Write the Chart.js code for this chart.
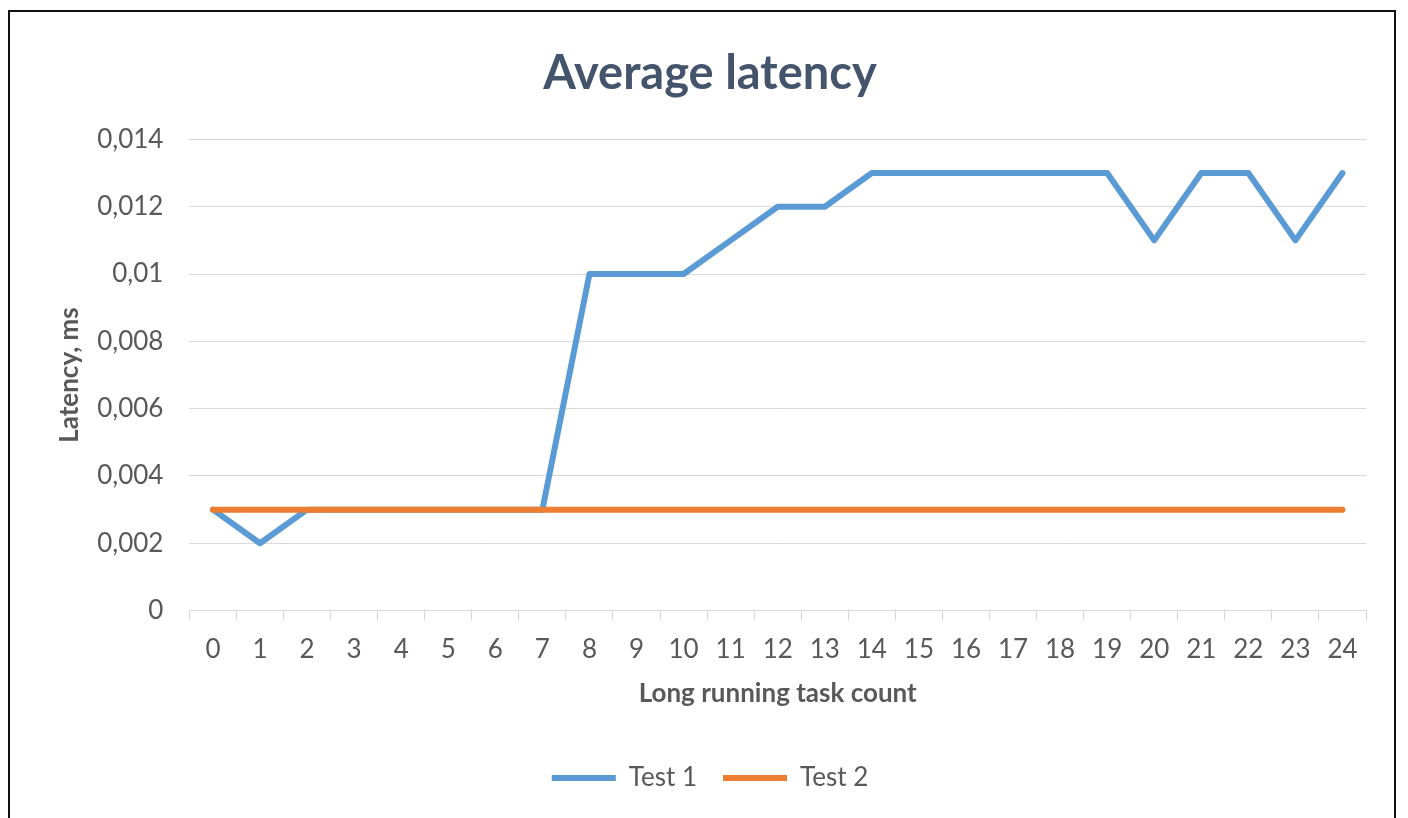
<!DOCTYPE html>
<html>
<head>
<meta charset="utf-8">
<script src="https://cdn.jsdelivr.net/npm/chart.js@4/dist/chart.umd.min.js"></script>
<style>
    body { margin: 0; background: #fff; }
    #wrap { position: relative; width: 1408px; height: 818px; }
    #frame {
        position: absolute; left: 8px; top: 10px; width: 1388px; height: 820px;
        border: 2px solid #111; pointer-events: none; box-sizing: border-box;
    }
</style>
</head>
<body>
<div id="wrap">
    <canvas id="latency-chart"></canvas>
    <div id="frame"></div>
</div>
<script>
// Data
const taskCounts = ['0', '1', '2', '3', '4', '5', '6', '7', '8', '9', '10', '11', '12',
    '13', '14', '15', '16', '17', '18', '19', '20', '21', '22', '23', '24'];
const test1 = [0.003, 0.002, 0.003, 0.003, 0.003, 0.003, 0.003, 0.003, 0.010, 0.010, 0.010, 0.011, 0.012,
    0.012, 0.013, 0.013, 0.013, 0.013, 0.013, 0.013, 0.011, 0.013, 0.013, 0.011, 0.013];
const test2 = [0.003, 0.003, 0.003, 0.003, 0.003, 0.003, 0.003, 0.003, 0.003, 0.003, 0.003, 0.003, 0.003,
    0.003, 0.003, 0.003, 0.003, 0.003, 0.003, 0.003, 0.003, 0.003, 0.003, 0.003, 0.003];
const yMax = 0.014;
const yStep = 0.002;

const textColor = '#595959';
const gridColor = '#d9d9d9';
const fontFamily = 'Lato, "Open Sans", sans-serif';

function commaNumber(value) {
    return Number(value.toFixed(3)).toString().replace('.', ',');
}

const ctx = document.getElementById('latency-chart');

new Chart(ctx, {
    type: 'line',
    data: {
        labels: taskCounts,
        datasets: [
            {
                label: 'Test 1',
                data: test1,
                borderColor: '#5b9bd5',
                backgroundColor: '#5b9bd5',
                borderWidth: 6,
                borderCapStyle: 'round',
                borderJoinStyle: 'round',
                pointRadius: 0,
                tension: 0,
                order: 1
            },
            {
                label: 'Test 2',
                data: test2,
                borderColor: '#ed7d31',
                backgroundColor: '#ed7d31',
                borderWidth: 6,
                borderCapStyle: 'round',
                borderJoinStyle: 'round',
                pointRadius: 0,
                tension: 0,
                order: 0
            }
        ]
    },
    options: {
        responsive: true,
        maintainAspectRatio: false,
        animation: false,
        layout: {
            padding: { top: 38, left: 54, right: 42, bottom: 17 }
        },
        scales: {
            x: {
                offset: true,
                grid: {
                    offset: true,
                    drawOnChartArea: false,
                    drawTicks: true,
                    tickLength: 10,
                    color: gridColor
                },
                border: { display: true, color: gridColor, width: 1 },
                ticks: {
                    color: textColor,
                    font: { family: fontFamily, size: 26 },
                    padding: 13,
                    maxRotation: 0,
                    autoSkip: false
                },
                title: {
                    display: true,
                    text: 'Long running task count',
                    color: textColor,
                    font: { family: fontFamily, size: 26, weight: 'bold' },
                    padding: { top: 0, bottom: 0 }
                }
            },
            y: {
                min: 0,
                max: yMax,
                grid: {
                    color: gridColor,
                    drawTicks: false
                },
                border: { display: false },
                ticks: {
                    stepSize: yStep,
                    color: textColor,
                    font: { family: fontFamily, size: 26 },
                    padding: 26,
                    callback: function(value) {
                        return commaNumber(value);
                    }
                },
                title: {
                    display: true,
                    text: 'Latency, ms',
                    color: textColor,
                    font: { family: fontFamily, size: 26, weight: 'bold' },
                    padding: { top: 0, bottom: -14 }
                }
            }
        },
        plugins: {
            title: {
                display: true,
                text: 'Average latency',
                color: '#44546a',
                font: { family: fontFamily, size: 47, weight: 'bold' },
                padding: { top: 8, bottom: 37 }
            },
            legend: {
                position: 'bottom',
                // empty title only adds room above the legend row
                title: {
                    display: true,
                    text: ' ',
                    font: { size: 10 },
                    padding: { top: 18, bottom: 0 }
                },
                labels: {
                    usePointStyle: true,
                    pointStyle: 'line',
                    pointStyleWidth: 64,
                    color: textColor,
                    font: { family: fontFamily, size: 26 },
                    padding: 26,
                    sort: function(a, b) {
                        return a.datasetIndex - b.datasetIndex;
                    }
                }
            },
            tooltip: { enabled: false }
        }
    }
});
</script>
</body>
</html>
